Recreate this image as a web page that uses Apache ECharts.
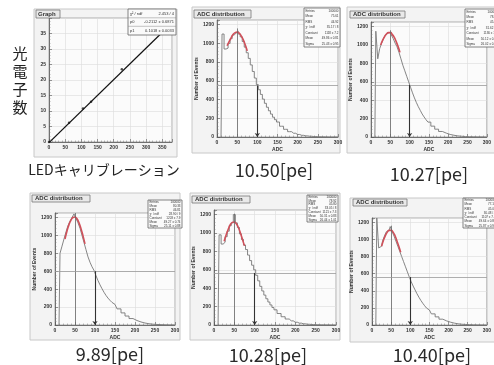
<!DOCTYPE html>
<html>
<head>
<meta charset="utf-8">
<script src="https://cdn.jsdelivr.net/npm/echarts@6/dist/echarts.min.js"></script>
<style>
  html, body { margin: 0; padding: 0; background: #fff; }
  #chart { width: 494px; height: 365px; }
</style>
</head>
<body>
<div id="chart"></div>
<script>
// LED calibration graph (ADC vs photoelectrons)
var calibAdc = [0, 62, 105, 130, 225, 345]
var calibPe = [0, 6.2, 10.8, 13.0, 23.5, 35.0]
var calibFitAdc = [0, 355]
var calibFitPe = [-0.2, 35.9]
var calibStatNames = ['χ² / ndf', 'p0', 'p1']
var calibStatValues = ['2.453 / 4', '-0.2112 ± 0.6871', '0.1018 ± 0.0033']

// ADC histograms (bin centres shared by all five)
var adcBins = [10, 15, 20, 25, 30, 35, 40, 45, 50, 55, 60, 65, 70, 75, 80, 85, 90, 95, 100,
  105, 110, 115, 120, 125, 130, 135, 140, 145, 150,
  160, 170, 180, 190, 200, 210, 220, 230, 240, 250, 260, 270, 280, 290, 300]
var counts1050 = [0, 1100, 940, 950, 1000, 1050, 1090, 1110, 1130, 1100, 1070, 1020, 960, 900, 840, 770, 700, 630, 560,
  505, 455, 405, 360, 318, 280, 245, 212, 185, 160,
  115, 82, 57, 40, 27, 18, 12, 8, 5, 3, 2, 1, 0, 0, 0]
var counts1027 = [0, 1150, 850, 960, 1020, 1070, 1110, 1130, 1140, 1110, 1070, 1020, 980, 920, 850, 780, 720, 660, 600,
  540, 480, 425, 375, 330, 290, 250, 218, 188, 162,
  118, 85, 60, 42, 28, 19, 12, 8, 5, 3, 2, 1, 1, 0, 0]
var counts989 = [0, 800, 880, 960, 1040, 1110, 1160, 1200, 1240, 1190, 1140, 1080, 1000, 920, 840, 760, 700, 650, 610,
  550, 495, 448, 405, 365, 330, 300, 275, 252, 230,
  180, 135, 100, 72, 50, 34, 22, 14, 9, 6, 4, 2, 1, 1, 0]
var counts1028 = [0, 980, 880, 900, 960, 1020, 1080, 1110, 1200, 1110, 1060, 990, 930, 870, 820, 760, 700, 650, 600,
  540, 480, 420, 370, 325, 285, 250, 218, 190, 165,
  125, 90, 65, 45, 30, 20, 13, 8, 5, 3, 2, 1, 1, 0, 0]
var counts1040 = [0, 1250, 900, 920, 980, 1040, 1090, 1110, 1150, 1090, 1040, 980, 920, 860, 800, 740, 680, 620, 560,
  505, 455, 410, 365, 325, 288, 255, 225, 198, 175,
  130, 95, 68, 48, 33, 22, 14, 9, 6, 4, 2, 1, 1, 0, 0]

// red gaussian fit around the peak
var fitAdc = [25, 30, 35, 40, 45, 50, 55, 60, 65, 70, 75]
var fit1050 = [975, 1020, 1060, 1095, 1115, 1120, 1110, 1080, 1040, 985, 920]
var fit1027 = [1000, 1050, 1090, 1120, 1135, 1135, 1115, 1085, 1040, 985, 920]
var fit989 = [960, 1050, 1120, 1170, 1200, 1205, 1185, 1140, 1075, 995, 905]
var fit1028 = [910, 980, 1040, 1090, 1115, 1120, 1100, 1060, 1000, 930, 860]
var fit1040 = [920, 990, 1045, 1085, 1105, 1105, 1085, 1045, 985, 920, 850]

var peakAdc = [50, 50, 50, 50, 50]
var peakTop = [1160, 1160, 1250, 1210, 1160]
var halfLevel = [550, 565, 600, 565, 560]
var halfAdc = [100, 100, 100, 100, 100]
var peLabels = ['10.50[pe]', '10.27[pe]', '9.89[pe]', '10.28[pe]', '10.40[pe]']

var statNames = ['Entries', 'Mean', 'RMS', 'χ² / ndf', 'Constant', 'Mean', 'Sigma']
var statValues = [
  ['100000', '75.61', '44.92', '35.17 / 8', '1118 ± 7.2', '49.86 ± 0.81', '25.43 ± 0.95'],
  ['100000', '78.04', '45.37', '31.62 / 8', '1136 ± 7.4', '50.12 ± 0.79', '26.02 ± 0.98'],
  ['100000', '80.33', '46.81', '28.90 / 9', '1203 ± 7.9', '49.27 ± 0.74', '25.11 ± 0.88'],
  ['100000', '78.92', '45.80', '33.05 / 8', '1121 ± 7.3', '50.31 ± 0.83', '26.44 ± 1.01'],
  ['100000', '77.15', '45.02', '30.48 / 8', '1107 ± 7.1', '49.64 ± 0.80', '25.87 ± 0.97']
]

var allCounts = [counts1050, counts1027, counts989, counts1028, counts1040]
var allFits = [fit1050, fit1027, fit989, fit1028, fit1040]

// panel layout on the 494x365 page
var layout = [
  { frame: [192, 7, 148, 146], grid: [217, 20, 121, 117], title: [194, 10, 57, 8], stat: [304, 8, 36, 39], cap: [274, 170] },
  { frame: [347, 7, 152, 146], grid: [371, 22, 125, 115], title: [350, 11, 55, 7], stat: [465, 9, 34, 38], cap: [429, 174] },
  { frame: [30, 193, 150, 147], grid: [55, 213, 120, 112], title: [32, 195, 58, 7], stat: [148, 200, 34, 28], cap: [110, 354] },
  { frame: [190, 193, 150, 147], grid: [214, 210, 122, 115], title: [192, 196, 58, 7], stat: [307, 195, 31, 27], cap: [268, 355] },
  { frame: [350, 198, 148, 144], grid: [372, 218, 120, 107], title: [353, 199, 54, 7], stat: [463, 198, 34, 30], cap: [432, 355] }
]

function pairs(xs, ys) {
  return xs.map(function (x, i) { return [x, ys[i]] })
}

var axisFont = { fontSize: 5, fontWeight: 'bold', color: '#333', fontFamily: 'Liberation Sans' }

function rootAxis(min, max, interval, keep) {
  return {
    type: 'value',
    min: min,
    max: max,
    interval: interval,
    axisLine: { show: true, lineStyle: { color: '#555', width: 0.8 } },
    axisTick: { show: true, inside: true, length: 3, lineStyle: { color: '#555', width: 0.6 } },
    minorTick: { show: true, splitNumber: 5, length: 1.5, lineStyle: { color: '#777', width: 0.5 } },
    splitLine: { show: true, lineStyle: { color: '#dcdcdc', width: 0.6 } },
    axisLabel: Object.assign({ margin: 3, formatter: function (v) { return keep(v) ? String(v) : '' } }, axisFont)
  }
}

var grids = []
var xAxes = []
var yAxes = []
var series = []
var graphics = []

// ---- panel 0: LED calibration graph
graphics.push({ type: 'rect', z: -100, silent: true, shape: { x: 34, y: 9, width: 143, height: 148 }, style: { fill: '#f3f3f3', stroke: '#c8c8c8', lineWidth: 1 } })
grids.push({ left: 49, top: 18, width: 123, height: 124, show: true, backgroundColor: '#fbfbfb', borderColor: '#999', borderWidth: 0.8 })
xAxes.push(Object.assign(rootAxis(0, 380, 50, function (v) { return v % 50 === 0 && v <= 350 }), { gridIndex: 0 }))
yAxes.push(Object.assign(rootAxis(0, 40, 5, function (v) { return v % 5 === 0 && v < 40 }), { gridIndex: 0 }))
series.push({
  type: 'line', xAxisIndex: 0, yAxisIndex: 0, showSymbol: false, silent: true,
  lineStyle: { color: '#111', width: 1.2 },
  data: pairs(calibFitAdc, calibFitPe)
})
series.push({
  type: 'scatter', xAxisIndex: 0, yAxisIndex: 0, symbol: 'circle', symbolSize: 2.5, silent: true,
  itemStyle: { color: '#222' },
  data: pairs(calibAdc, calibPe)
})

// title + stats of the graph panel
graphics.push({ type: 'rect', z: 100, silent: true, shape: { x: 36, y: 10, width: 24, height: 8 }, style: { fill: '#e9e9e9', stroke: '#777', lineWidth: 0.8 } })
graphics.push({ type: 'text', z: 101, silent: true, style: { text: 'Graph', x: 38, y: 14, fontSize: 6, fontWeight: 'bold', fontFamily: 'Liberation Sans', fill: '#333', textVerticalAlign: 'middle', verticalAlign: 'middle' } })
graphics.push({ type: 'rect', z: 100, silent: true, shape: { x: 128, y: 9, width: 48, height: 26 }, style: { fill: '#fafafa', stroke: '#666', lineWidth: 0.8 } })
calibStatNames.forEach(function (name, i) {
  var yy = 13.5 + i * 8.5
  graphics.push({ type: 'text', z: 101, silent: true, style: { text: name, x: 130, y: yy, fontSize: 4, fontFamily: 'Liberation Sans', fill: '#333', textVerticalAlign: 'middle', verticalAlign: 'middle' } })
  graphics.push({ type: 'text', z: 101, silent: true, style: { text: calibStatValues[i], x: 174, y: yy, fontSize: 4, fontFamily: 'Liberation Sans', fill: '#333', textAlign: 'right', align: 'right', textVerticalAlign: 'middle', verticalAlign: 'middle' } })
  if (i > 0) {
    graphics.push({ type: 'line', z: 101, silent: true, shape: { x1: 128, y1: yy - 4.2, x2: 176, y2: yy - 4.2 }, style: { stroke: '#888', lineWidth: 0.5 } })
  }
})
graphics.push({ type: 'text', silent: true, style: { text: '光\n電\n子\n数', x: 20, y: 80, fontSize: 15, lineHeight: 18, fontFamily: 'Noto Sans CJK JP', fill: '#222', textAlign: 'center', align: 'center', textVerticalAlign: 'middle', verticalAlign: 'middle' } })
graphics.push({ type: 'text', silent: true, style: { text: 'LEDキャリブレーション', x: 104, y: 170, fontSize: 14, fontFamily: 'Noto Sans CJK JP', fill: '#222', textAlign: 'center', align: 'center', textVerticalAlign: 'middle', verticalAlign: 'middle' } })

// ---- panels 1..5: ADC distributions
layout.forEach(function (p, k) {
  var gi = k + 1
  var f = p.frame
  graphics.push({ type: 'rect', z: -100, silent: true, shape: { x: f[0], y: f[1], width: f[2], height: f[3] }, style: { fill: '#f3f3f3', stroke: '#c8c8c8', lineWidth: 1 } })
  grids.push({ left: p.grid[0], top: p.grid[1], width: p.grid[2], height: p.grid[3], show: true, backgroundColor: '#fbfbfb', borderColor: '#999', borderWidth: 0.8 })

  var xa = rootAxis(0, 300, 50, function (v) { return v % 50 === 0 })
  xa.gridIndex = gi
  xa.name = 'ADC'
  xa.nameLocation = 'middle'
  xa.nameGap = 10
  xa.nameTextStyle = axisFont
  xAxes.push(xa)

  var ya = rootAxis(0, 1250, 200, function (v) { return v % 200 === 0 })
  ya.gridIndex = gi
  ya.name = 'Number of Events'
  ya.nameLocation = 'middle'
  ya.nameGap = 15
  ya.nameTextStyle = axisFont
  yAxes.push(ya)

  series.push({
    type: 'line', xAxisIndex: gi, yAxisIndex: gi, step: 'middle', showSymbol: false, silent: true,
    lineStyle: { color: '#777', width: 0.9 },
    data: pairs(adcBins, allCounts[k]),
    markLine: {
      silent: true,
      symbol: 'none',
      label: { show: false },
      lineStyle: { color: '#666', width: 0.8, type: 'solid' },
      data: [
        [{ coord: [peakAdc[k], 0] }, { coord: [peakAdc[k], peakTop[k]] }],
        [{ coord: [0, halfLevel[k]], lineStyle: { color: '#9a9a9a', width: 0.8 } }, { coord: [300, halfLevel[k]] }],
        [{ coord: [halfAdc[k], halfLevel[k]], lineStyle: { color: '#333', width: 1.1 } }, { coord: [halfAdc[k], 0], symbol: 'arrow', symbolSize: 4 }]
      ]
    }
  })
  series.push({
    type: 'line', xAxisIndex: gi, yAxisIndex: gi, smooth: true, showSymbol: false, silent: true,
    lineStyle: { color: '#d0505a', width: 1.6 },
    data: pairs(fitAdc, allFits[k])
  })

  var t = p.title
  graphics.push({ type: 'rect', z: 100, silent: true, shape: { x: t[0], y: t[1], width: t[2], height: t[3] }, style: { fill: '#e9e9e9', stroke: '#777', lineWidth: 0.8 } })
  graphics.push({ type: 'text', z: 101, silent: true, style: { text: 'ADC distribution', x: t[0] + 3, y: t[1] + t[3] / 2, fontSize: 6, fontWeight: 'bold', fontFamily: 'Liberation Sans', fill: '#333', textVerticalAlign: 'middle', verticalAlign: 'middle' } })

  var s = p.stat
  graphics.push({ type: 'rect', z: 100, silent: true, shape: { x: s[0], y: s[1], width: s[2], height: s[3] }, style: { fill: '#fafafa', stroke: '#666', lineWidth: 0.8 } })
  var rowH = s[3] / statNames.length
  statNames.forEach(function (name, i) {
    var yy = s[1] + rowH * (i + 0.5)
    graphics.push({ type: 'text', z: 101, silent: true, style: { text: name, x: s[0] + 1.5, y: yy, fontSize: 3, fontFamily: 'Liberation Sans', fill: '#333', textVerticalAlign: 'middle', verticalAlign: 'middle' } })
    graphics.push({ type: 'text', z: 101, silent: true, style: { text: statValues[k][i], x: s[0] + s[2] - 1.5, y: yy, fontSize: 3, fontFamily: 'Liberation Sans', fill: '#333', textAlign: 'right', align: 'right', textVerticalAlign: 'middle', verticalAlign: 'middle' } })
  })

  graphics.push({ type: 'text', silent: true, style: { text: peLabels[k], x: p.cap[0], y: p.cap[1], fontSize: 18, fontFamily: 'Noto Sans CJK JP', fill: '#2a2a2a', textAlign: 'center', align: 'center', textVerticalAlign: 'middle', verticalAlign: 'middle' } })
})

var chart = echarts.init(document.getElementById('chart'))
chart.setOption({
  animation: false,
  backgroundColor: '#ffffff',
  grid: grids,
  xAxis: xAxes,
  yAxis: yAxes,
  series: series,
  graphic: { elements: graphics }
})
</script>
</body>
</html>
